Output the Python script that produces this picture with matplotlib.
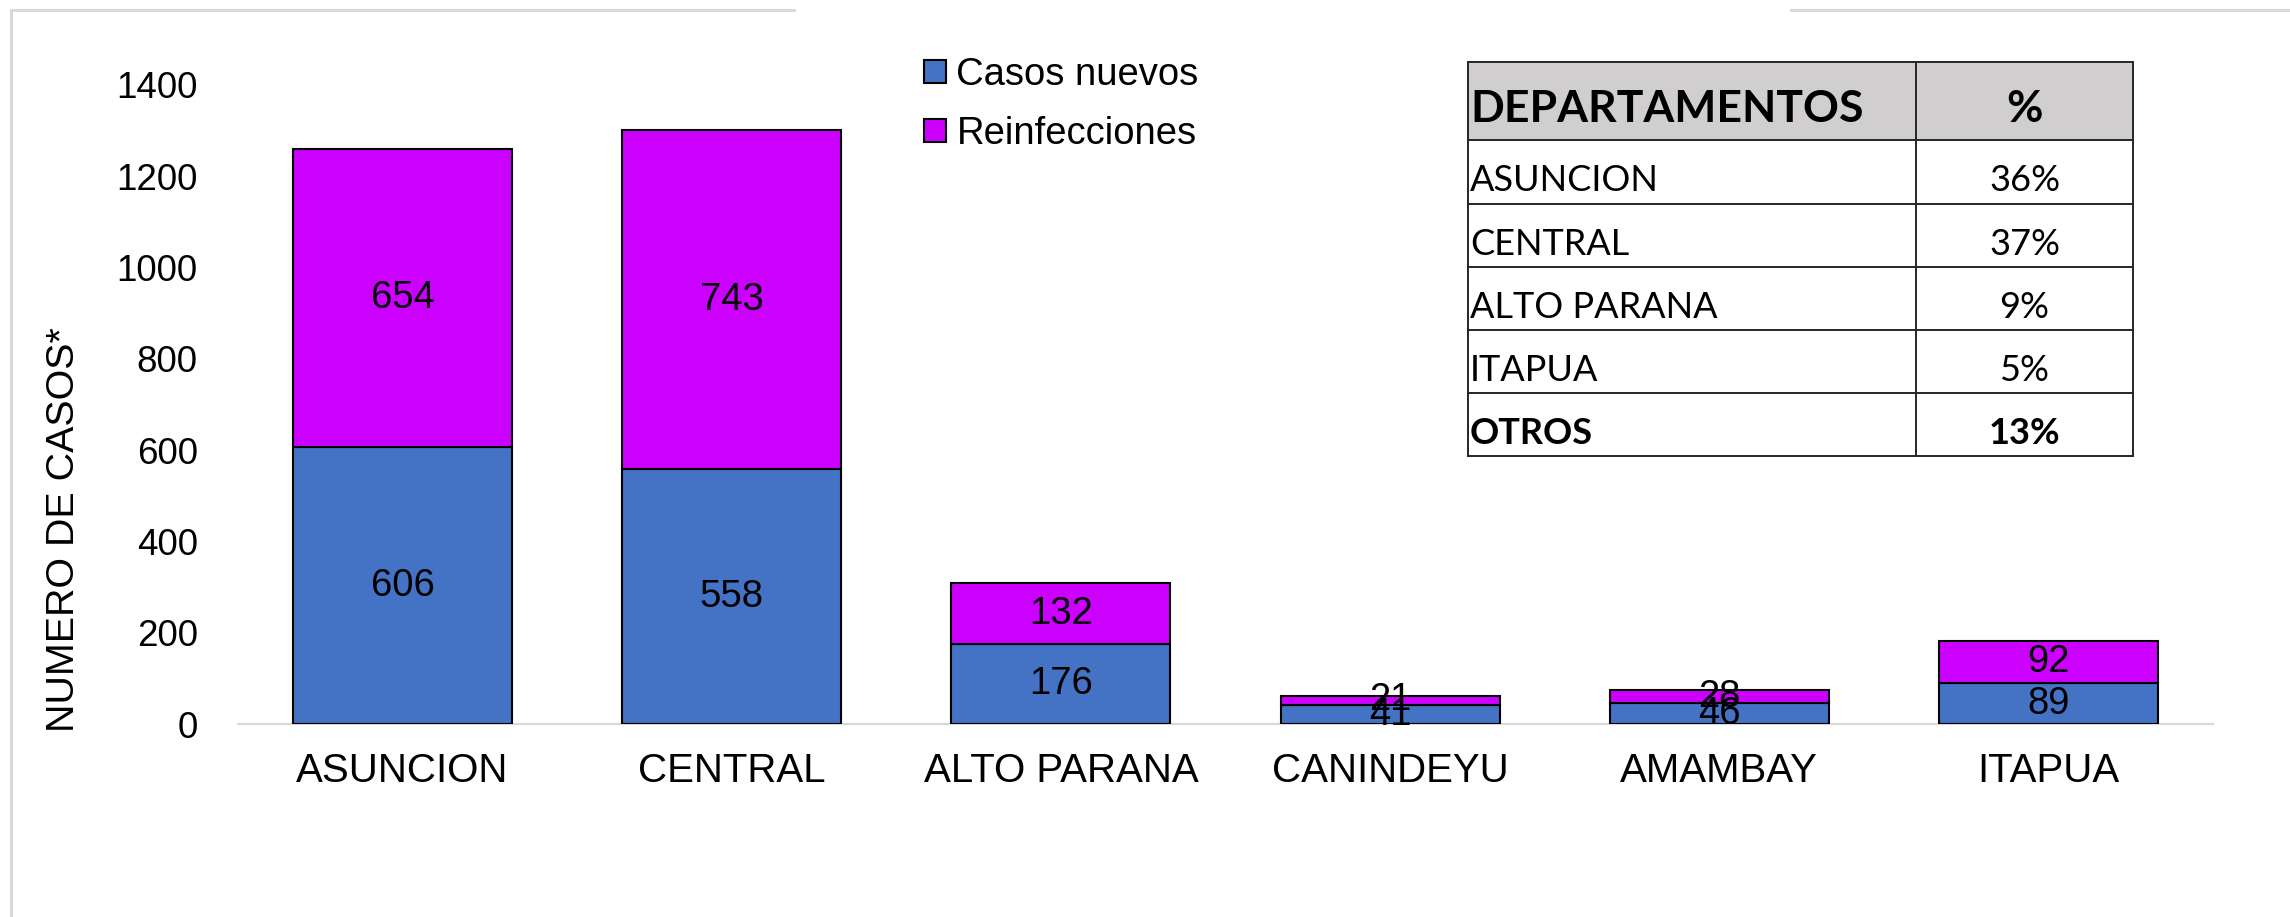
import matplotlib
matplotlib.use("Agg")
import matplotlib.pyplot as plt
from matplotlib.lines import Line2D
from matplotlib.patches import Rectangle

# ---------------- data ----------------
categories = ["ASUNCION", "CENTRAL", "ALTO PARANA", "CANINDEYU", "AMAMBAY", "ITAPUA"]
casos_nuevos = [606, 558, 176, 41, 46, 89]
reinfecciones = [654, 743, 132, 21, 28, 92]
series_names = ["Casos nuevos", "Reinfecciones"]
y_ticks = [0, 200, 400, 600, 800, 1000, 1200, 1400]
y_label = "NUMERO DE CASOS*"

table_header = ["DEPARTAMENTOS", "%"]
table_depts = ["ASUNCION", "CENTRAL", "ALTO PARANA", "ITAPUA", "OTROS"]
table_pcts = ["36%", "37%", "9%", "5%", "13%"]
table_bold = [False, False, False, False, True]

# ---------------- style ----------------
W, H = 2290, 917
BLUE = "#4472C4"
MAGENTA = "#CC00FF"
GRID_GRAY = "#D9D9D9"
plt.rcParams["font.family"] = ["Liberation Sans", "DejaVu Sans"]

fig = plt.figure(figsize=(W / 100, H / 100), dpi=100)
fig.patch.set_facecolor("white")

# main axes (pixel layout: left 238, right 2213, top 85, bottom 724)
ax = fig.add_axes([238 / W, (H - 724) / H, (2213 - 238) / W, (724 - 85) / H])
x = list(range(len(categories)))
b1 = ax.bar(x, casos_nuevos, width=0.665, color=BLUE, edgecolor="black",
            linewidth=1.5, label=series_names[0], zorder=2)
b2 = ax.bar(x, reinfecciones, width=0.665, bottom=casos_nuevos, color=MAGENTA,
            edgecolor="black", linewidth=1.5, label=series_names[1], zorder=2)
ax.bar_label(b1, label_type="center", fontsize=27.5, color="black")
ax.bar_label(b2, label_type="center", fontsize=27.5, color="black")

ax.set_xlim(-0.5, len(categories) - 0.5)
ax.set_ylim(0, 1400)
ax.set_yticks(y_ticks)
ax.set_yticklabels([str(v) for v in y_ticks], fontsize=26.5)
ax.set_xticks(x)
ax.set_xticklabels(categories, fontsize=29)
ax.tick_params(axis="y", length=0, pad=29)
ax.tick_params(axis="x", length=0, pad=20)
for s in ["top", "right", "left"]:
    ax.spines[s].set_visible(False)
ax.spines["bottom"].set_color(GRID_GRAY)
ax.spines["bottom"].set_linewidth(1.6)
ax.spines["bottom"].set_zorder(1)
ax.set_ylabel(y_label, fontsize=28.4)
ax.yaxis.set_label_coords(-0.0792, 0.305)

leg = ax.legend(handles=[b1, b2], loc="upper left",
                bbox_to_anchor=(924 / W, (H - 57) / H),
                bbox_transform=fig.transFigure, frameon=False, fontsize=27.5,
                borderpad=0, borderaxespad=0, handlelength=0.58,
                handleheight=0.53, handletextpad=0.27, labelspacing=0.6)

# ---------------- overlay (frame lines + table) in pixel coordinates ----------------
ov = fig.add_axes([0, 0, 1, 1], zorder=5)
ov.set_xlim(0, W)
ov.set_ylim(H, 0)
ov.axis("off")
ov.patch.set_alpha(0)

ov.add_line(Line2D([11, 794], [10, 10], color=GRID_GRAY, lw=2.2))
ov.add_line(Line2D([1791, W], [10, 10], color=GRID_GRAY, lw=2.2))
ov.add_line(Line2D([11, 11], [10, H], color=GRID_GRAY, lw=2.2))

tx0, tx1, txm = 1468, 2133, 1916
rows = [62, 140, 204, 267, 330, 393, 456]
ov.add_patch(Rectangle((tx0, rows[0]), tx1 - tx0, rows[1] - rows[0],
                       facecolor="#D0CECE", edgecolor="none"))
tbl_color = "#262626"
for yy in rows:
    ov.add_line(Line2D([tx0, tx1], [yy, yy], color=tbl_color, lw=1.4))
for xx in [tx0, txm, tx1]:
    ov.add_line(Line2D([xx, xx], [rows[0], rows[-1]], color=tbl_color, lw=1.4))

tfont = ["Lato", "DejaVu Sans"]
ov.text(tx0 + 2, 122, table_header[0], fontsize=32, fontweight="bold",
        family=tfont, ha="left", va="baseline")
ov.text((txm + tx1) / 2, 122, table_header[1], fontsize=32, fontweight="bold",
        family=tfont, ha="center", va="baseline")
for i, (d, p, bold) in enumerate(zip(table_depts, table_pcts, table_bold)):
    base = rows[i + 1] + 51
    w = "bold" if bold else "normal"
    ov.text(tx0 + 2, base, d, fontsize=26, fontweight=w, family=tfont,
            ha="left", va="baseline")
    ov.text((txm + tx1) / 2, base, p, fontsize=26, fontweight=w, family=tfont,
            ha="center", va="baseline")

fig.savefig("out.png", dpi=100, facecolor="white")
